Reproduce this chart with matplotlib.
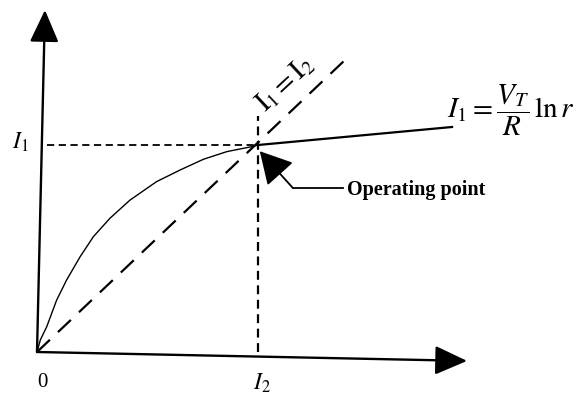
import matplotlib
matplotlib.use("Agg")
import matplotlib.pyplot as plt

plt.rcParams['mathtext.fontset'] = 'stix'
plt.rcParams['font.family'] = ['Liberation Serif', 'DejaVu Serif']

# ---- data (units: I2 = 1 on x, I1 = 1 on y) ----
curve_x = [0.0, 0.015, 0.044, 0.089, 0.134, 0.195, 0.255, 0.330, 0.421, 0.541,
           0.647, 0.753, 0.859, 0.934, 0.972, 1.0]
curve_y = [0.0, 0.058, 0.122, 0.251, 0.348, 0.460, 0.557, 0.646, 0.734, 0.823,
           0.879, 0.931, 0.968, 0.984, 0.992, 1.0]
load_line_x = [1.0, 1.878]
load_line_y = [1.0, 1.087]
diag_x = [0.0, 1.394]
diag_y = [0.0, 1.411]
op_x, op_y = 1.0, 1.0
yaxis_end = (0.036, 1.652)
xaxis_end = (1.946, -0.043)
vert_top = 1.14
horiz_left = 0.045

label_I1 = r'$I_1$'
label_I2 = r'$I_2$'
label_zero = '0'
label_diag = r'$\mathrm{I}_1 = \mathrm{I}_2$'
label_eq = r'$I_1 = \dfrac{V_T}{R}\,\ln r$'
label_op = 'Operating point'

fig = plt.figure(figsize=(5.78, 3.95), dpi=100)
ax = fig.add_axes([0, 0, 1, 1])
ax.set_xlim(-37 / 221, (578 - 37) / 221)
ax.set_ylim((352 - 395) / 207, 352 / 207)
ax.axis('off')

# axes with arrows
for end in (yaxis_end, xaxis_end):
    ax.annotate('', xy=end, xytext=(0, 0),
                arrowprops=dict(arrowstyle='-|>,head_length=1.0,head_width=0.45',
                                mutation_scale=20, lw=1.7, color='black',
                                shrinkA=0, shrinkB=0))

# curve and load line
ax.plot(curve_x, curve_y, color='black', lw=1.0, solid_capstyle='round',
        solid_joinstyle='round')
ax.plot(load_line_x, load_line_y, color='black', lw=1.6)

# dashed diagonal I1 = I2
ax.plot(diag_x, diag_y, color='black', lw=1.6, dashes=(8, 5))

# dotted guides
ax.plot([horiz_left, op_x], [op_y, op_y], color='black', lw=1.3, dashes=(4, 2.5))
ax.plot([op_x, op_x], [0, vert_top], color='black', lw=1.6, dashes=(4, 2.5))

# operating point pointer
ax.plot([1.385, 1.158], [0.792, 0.792], color='black', lw=1.3)
ax.annotate('', xy=(1.008, 0.97), xytext=(1.158, 0.792),
            arrowprops=dict(arrowstyle='-|>,head_length=1.0,head_width=0.55',
                            mutation_scale=20, lw=1.3, color='black',
                            shrinkA=0, shrinkB=0))

# labels
ax.text(-0.077, 1.014, label_I1, fontsize=17, ha='center', va='center')
ax.text(0.023, -0.17, label_zero, fontsize=15, ha='center', va='baseline')
ax.text(1.018, -0.150, label_I2, fontsize=17, ha='center', va='center')
ax.text(1.125, 1.295, label_diag, fontsize=20, ha='center', va='center', rotation=43)
ax.text(1.855, 1.169, label_eq, fontsize=21, ha='left', va='center')
ax.text(1.403, 0.783, label_op, fontsize=14.5, fontweight='bold', ha='left', va='center')

fig.savefig('out.png', dpi=100)
